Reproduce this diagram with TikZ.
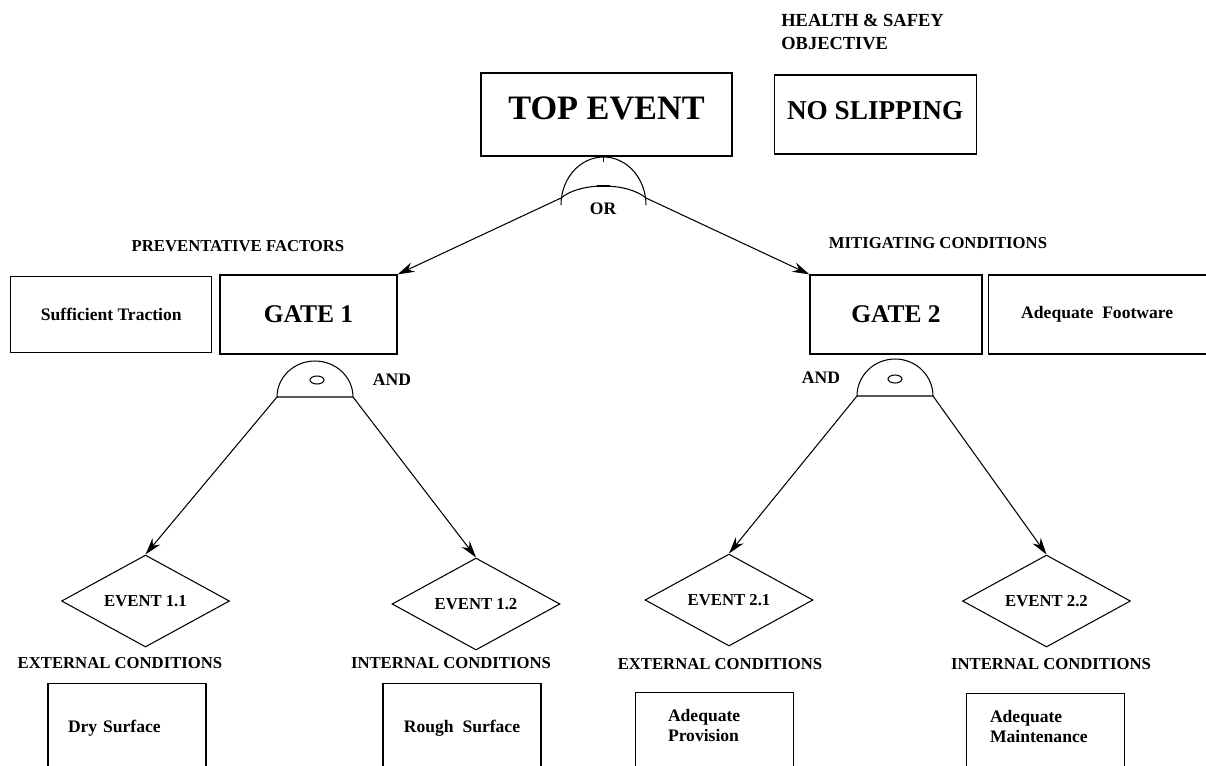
\documentclass[tikz,border=0pt]{standalone}
\usepackage{fontspec}
\setmainfont{Liberation Serif}
\usetikzlibrary{shapes.geometric,positioning,arrows.meta}

\begin{document}
\begin{tikzpicture}[x=0.02cm,y=-0.02cm,semithick,>={Stealth[length=3.4mm,width=2mm]},
    box/.style={draw,line width=0.7pt,minimum height=1.58cm,font=\bfseries\fontsize{10}{12}\selectfont},
    gatebox/.style={box,font=\bfseries\fontsize{14.5}{17}\selectfont},
    event/.style={diamond,draw,aspect=1.8,minimum width=3.36cm,minimum height=1.84cm,inner sep=0pt,font=\bfseries\fontsize{9.5}{11}\selectfont},
    basic/.style={draw,line width=0.7pt,anchor=north,minimum width=3.16cm,font=\bfseries\fontsize{10}{11.5}\selectfont},
    heading/.style={font=\bfseries\fontsize{9.5}{11}\selectfont}]
  \clip (0,0) rectangle (1206,765);

  % top event and objective
  \node[gatebox,minimum width=5.02cm,minimum height=1.66cm,text depth=7pt,font=\bfseries\fontsize{19.5}{23}\selectfont] (top) at (606.5,114.5) {TOP EVENT};
  \node[gatebox,minimum width=4.04cm,text depth=5pt,right=0.82cm of top,font=\bfseries\fontsize{15.5}{18}\selectfont] (obj) {NO SLIPPING};
  \node[heading,align=left,anchor=west,font=\bfseries\fontsize{10.5}{13.6}\selectfont] (objhead) at (775,32) {HEALTH \& SAFEY\\OBJECTIVE};

  % OR gate
  \coordinate (orL) at (561,198);
  \coordinate (orR) at (646,198);
  \draw (561,205) arc[start angle=180,end angle=0,x radius=0.85cm,y radius=0.96cm];
  \draw (orL) .. controls (580,182) and (627,182) .. (orR);
  \draw (603.5,157) -- (603.5,162);
  \draw (597,186) -- (610,186);
  \node[heading,font=\bfseries\fontsize{10}{12}\selectfont] (orlbl) at (603,209) {OR};

  % second level
  \node[gatebox,minimum width=3.54cm] (g1) at (308.5,314.5) {GATE 1};
  \node[box,minimum width=4.02cm,minimum height=1.52cm,left=0.14cm of g1] (trac) {Sufficient Traction};
  \node[gatebox,minimum width=3.44cm] (g2) at (896,314.5) {GATE 2};
  \node[box,minimum width=4.36cm,right=0.1cm of g2] (foot) {Adequate\ \ Footware};
  \node[heading] (prev) at (238,246) {PREVENTATIVE FACTORS};
  \node[heading] (mitig) at (938,243) {MITIGATING CONDITIONS};

  % AND gates
  \coordinate (a1L) at (277,397);
  \coordinate (a1R) at (353,397);
  \draw (a1L) arc[start angle=180,end angle=0,x radius=0.76cm,y radius=0.72cm] -- cycle;
  \draw (317,380) ellipse[x radius=0.14cm,y radius=0.08cm];
  \node[heading,font=\bfseries\fontsize{10}{12}\selectfont] (and1) at (392,380) {AND};
  \coordinate (a2L) at (857,396);
  \coordinate (a2R) at (933,396);
  \draw (a2L) arc[start angle=180,end angle=0,x radius=0.76cm,y radius=0.74cm] -- cycle;
  \draw (895,379) ellipse[x radius=0.14cm,y radius=0.08cm];
  \node[heading,font=\bfseries\fontsize{10}{12}\selectfont] (and2) at (821,378) {AND};

  % basic events
  \node[event] (e11) at (145.5,601) {EVENT 1.1};
  \node[event] (e12) at (476,604) {EVENT 1.2};
  \node[event] (e21) at (729,600) {EVENT 2.1};
  \node[event] (e22) at (1046.5,601) {EVENT 2.2};

  \node[heading] (c11) at (120,663) {EXTERNAL CONDITIONS};
  \node[heading] (c12) at (451,663) {INTERNAL CONDITIONS};
  \node[heading] (c21) at (720,664) {EXTERNAL CONDITIONS};
  \node[heading] (c22) at (1051,664) {INTERNAL CONDITIONS};

  \node[basic,minimum height=1.8cm,text width=2.36cm,align=left] (dry) at (127,683) {Dry Surface};
  \node[basic,minimum height=1.8cm] (rough) at (462,683) {Rough\ \ Surface};
  \node[basic,minimum height=1.56cm,text width=1.86cm,text depth=0.64cm,align=left] (prov) at (714.5,692) {Adequate\\Provision};
  \node[basic,minimum height=1.56cm,text width=2.22cm,text depth=0.64cm,align=left] (maint) at (1045.5,693) {Adequate\\Maintenance};

  \path[->] (orL) edge (g1.north east)
            (orR) edge (g2.north west)
            (a1L) edge (e11.north)
            (a1R) edge (e12.north)
            (a2L) edge (e21.north)
            (a2R) edge (e22.north);
\end{tikzpicture}
\end{document}
